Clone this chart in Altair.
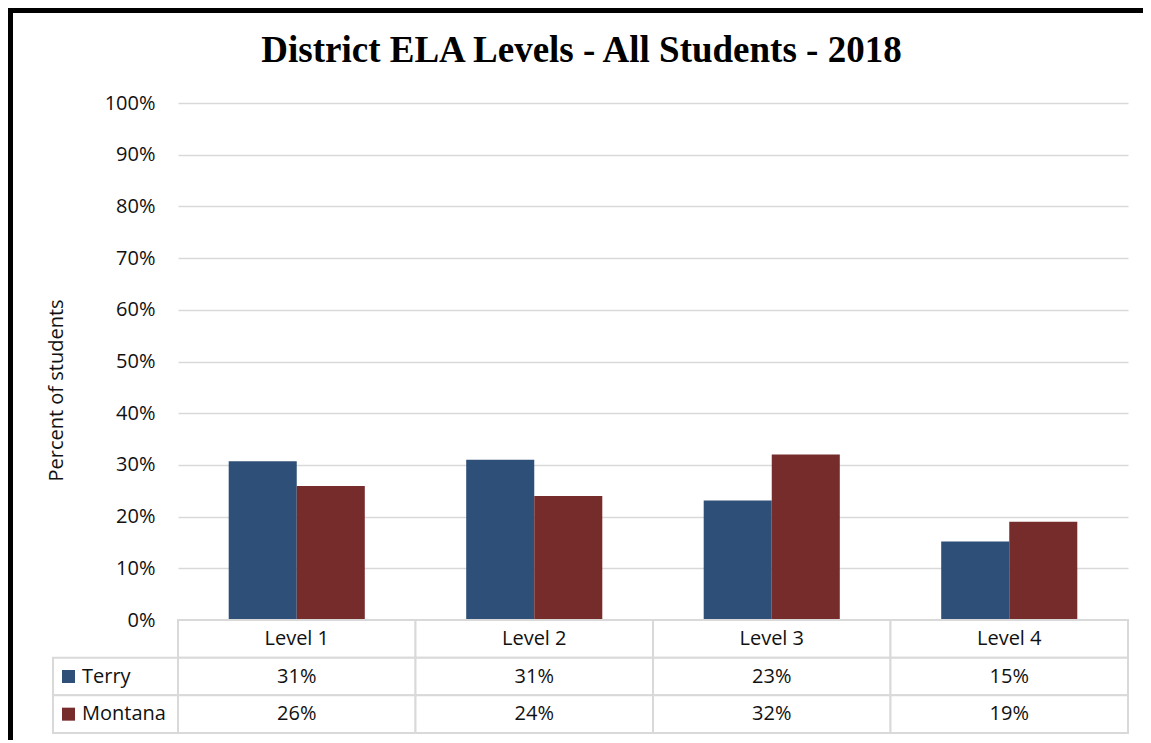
import altair as alt
import pandas as pd

# ---- data ----
levels = ["Level 1", "Level 2", "Level 3", "Level 4"]
series = ["Terry", "Montana"]
terry = [0.307, 0.310, 0.231, 0.152]
montana = [0.259, 0.240, 0.320, 0.190]
colors = ["#2E4F77", "#772C2C"]
y_ticks = [0, 0.1, 0.2, 0.3, 0.4, 0.5, 0.6, 0.7, 0.8, 0.9, 1.0]
title_text = "District ELA Levels - All Students - 2018"
y_title = "Percent of students"

rows = []
for i, lv in enumerate(levels):
    rows.append({"level": lv, "series": "Terry", "value": terry[i]})
    rows.append({"level": lv, "series": "Montana", "value": montana[i]})
df = pd.DataFrame(rows)

GRID = "#d9d9d9"
FONT = "Open Sans"
FS = 20

color_scale = alt.Scale(domain=series, range=colors)

W, H = 950, 517

bars = alt.Chart(df).mark_bar().encode(
    x=alt.X("level:N", sort=levels, axis=None,
            scale=alt.Scale(paddingInner=0.427, paddingOuter=0.2135)),
    xOffset=alt.XOffset("series:N", sort=series,
                        scale=alt.Scale(paddingInner=0, paddingOuter=0)),
    y=alt.Y("value:Q", scale=alt.Scale(domain=[0, 1]),
            axis=alt.Axis(values=y_ticks, format=".0%", grid=True, gridColor=GRID,
                          gridWidth=1.5, domain=False, ticks=False, labelPadding=23,
                          labelFont=FONT, labelFontSize=FS, labelColor="#111",
                          title=y_title, titleFont=FONT, titleFontSize=FS,
                          titleFontWeight="normal", titleColor="#111",
                          titleX=-122, titleY=287, titleAngle=270,
                          titleAlign="center", titleBaseline="middle")),
    color=alt.Color("series:N", scale=color_scale, legend=None),
)

title_df = pd.DataFrame({"t": [title_text]})
title_mark = alt.Chart(title_df).mark_text(
    font="Liberation Serif", fontWeight="bold", fontSize=37, color="#000",
    align="center", baseline="alphabetic"
).encode(x=alt.value(403.5), y=alt.value(-41.3), text="t:N")

one = pd.DataFrame({"a": [0]})
left_border = alt.Chart(one).mark_rect(color="#000").encode(
    x=alt.value(-170), x2=alt.value(-165), y=alt.value(-95), y2=alt.value(637))
top_border = alt.Chart(one).mark_rect(color="#000").encode(
    x=alt.value(-170), x2=alt.value(965), y=alt.value(-95), y2=alt.value(-90))

top = alt.layer(bars, title_mark, left_border, top_border).properties(width=W, height=H)

# ---- data table ----
row_keys = ["header", "Terry", "Montana"]
cells = []
for lv in levels:
    cells.append({"level": lv, "row": "header", "text": lv})
for r in rows:
    cells.append({"level": r["level"], "row": r["series"], "text": f"{round(r['value']*100):.0f}%"})
cells_df = pd.DataFrame(cells)
label_df = pd.DataFrame({"row": series, "series": series})

xs = alt.X("level:N", sort=levels, axis=None, scale=alt.Scale(paddingInner=0, paddingOuter=0))
ys = alt.Y("row:N", sort=row_keys, axis=None,
           scale=alt.Scale(domain=row_keys, paddingInner=0, paddingOuter=0))

cell_rects = alt.Chart(cells_df).mark_rect(fill="white", stroke=GRID, strokeWidth=2).encode(x=xs, y=ys)
label_rects = alt.Chart(label_df).mark_rect(fill="white", stroke=GRID, strokeWidth=2).encode(
    x=alt.value(-125), x2=alt.value(0), y=ys)
cell_text = alt.Chart(cells_df).mark_text(font=FONT, fontSize=FS, color="#111",
                                          baseline="middle").encode(x=xs, y=ys, text="text:N")
squares = alt.Chart(label_df).mark_square(size=169, opacity=1).encode(
    x=alt.value(-109.5), y=ys, color=alt.Color("series:N", scale=color_scale, legend=None))
labels = alt.Chart(label_df).mark_text(font=FONT, fontSize=FS, color="#111", align="left",
                                       baseline="middle").encode(
    x=alt.value(-96), y=ys, text="series:N")

table = alt.layer(cell_rects, label_rects, cell_text, squares, labels).properties(width=W, height=113)

chart = alt.vconcat(top, table, spacing=0, bounds="flush").resolve_scale(
    x="independent", y="independent"
).properties(padding=0).configure_view(stroke=None)

chart.save("out.html", embed_options={"renderer": "svg", "actions": False})
